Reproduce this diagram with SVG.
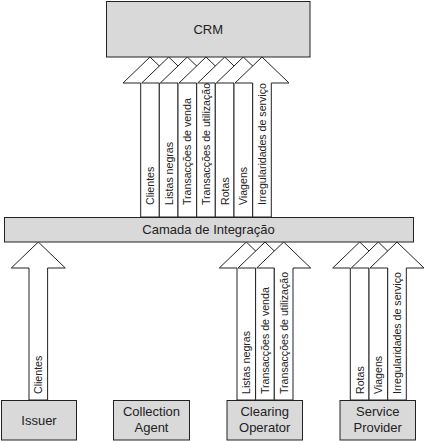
<svg xmlns="http://www.w3.org/2000/svg" width="424" height="441" viewBox="0 0 424 441">
<style>
.box{fill:#d9d9d9;stroke:#222;stroke-width:1}
.arr{fill:#fff;stroke:#222;stroke-width:1;stroke-linejoin:miter}
.lbl{font-family:"Liberation Sans",Arial,sans-serif;font-size:13px;fill:#222;text-anchor:middle}
.al{font-family:"Liberation Sans",Arial,sans-serif;font-size:10.6px;fill:#222}
</style>
<rect width="424" height="441" fill="#fff"/>
<g id="connectors">
<g id="a-clientes-top"><polygon class="arr" points="150,57 177,83 159.3,83 159.3,217 140.7,217 140.7,83 123,83"/><text class="al" transform="translate(153.8,205) rotate(-90)">Clientes</text></g>
<g id="a-listas-top"><polygon class="arr" points="168.7,57 195.7,83 178,83 178,217 159.3,217 159.3,83 141.7,83"/><text class="al" transform="translate(172.5,205) rotate(-90)">Listas negras</text></g>
<g id="a-venda-top"><polygon class="arr" points="187.3,57 214.3,83 196.7,83 196.7,217 178,217 178,83 160.3,83"/><text class="al" transform="translate(191.1,205) rotate(-90)">Transacções de venda</text></g>
<g id="a-util-top"><polygon class="arr" points="206,57 233,83 215.3,83 215.3,217 196.7,217 196.7,83 179,83"/><text class="al" transform="translate(209.8,205) rotate(-90)">Transacções de utilização</text></g>
<g id="a-rotas-top"><polygon class="arr" points="224.7,57 251.7,83 234,83 234,217 215.3,217 215.3,83 197.7,83"/><text class="al" transform="translate(228.5,205) rotate(-90)">Rotas</text></g>
<g id="a-viagens-top"><polygon class="arr" points="243.3,57 270.3,83 252.7,83 252.7,217 234,217 234,83 216.3,83"/><text class="al" transform="translate(247.1,205) rotate(-90)">Viagens</text></g>
<g id="a-irreg-top"><polygon class="arr" points="262,57 289,83 271.3,83 271.3,217 252.7,217 252.7,83 235,83"/><text class="al" transform="translate(265.8,205) rotate(-90)">Irregularidades de serviço</text></g>
<g id="a-clientes-issuer"><polygon class="arr" points="38.3,242 65.3,268 47.6,268 47.6,400 29,400 29,268 11.3,268"/><text class="al" transform="translate(42.1,394) rotate(-90)">Clientes</text></g>
<g id="a-listas-co"><polygon class="arr" points="246.3,242 273.3,268 255.6,268 255.6,400 237,400 237,268 219.3,268"/><text class="al" transform="translate(250.1,394) rotate(-90)">Listas negras</text></g>
<g id="a-venda-co"><polygon class="arr" points="265,242 292,268 274.3,268 274.3,400 255.6,400 255.6,268 238,268"/><text class="al" transform="translate(268.8,394) rotate(-90)">Transacções de venda</text></g>
<g id="a-util-co"><polygon class="arr" points="283.7,242 310.7,268 293,268 293,400 274.3,400 274.3,268 256.7,268"/><text class="al" transform="translate(287.5,394) rotate(-90)">Transacções de utilização</text></g>
<g id="a-rotas-sp"><polygon class="arr" points="359.7,242 386.7,268 369,268 369,400 350.3,400 350.3,268 332.7,268"/><text class="al" transform="translate(363.5,394) rotate(-90)">Rotas</text></g>
<g id="a-viagens-sp"><polygon class="arr" points="378.3,242 405.3,268 387.7,268 387.7,400 369,400 369,268 351.3,268"/><text class="al" transform="translate(382.1,394) rotate(-90)">Viagens</text></g>
<g id="a-irreg-sp"><polygon class="arr" points="397,242 424,268 406.3,268 406.3,400 387.7,400 387.7,268 370,268"/><text class="al" transform="translate(400.8,394) rotate(-90)">Irregularidades de serviço</text></g>
</g>
<g id="crm"><rect class="box" x="106.5" y="1.5" width="203.5" height="55.5"/><text class="lbl" x="208.2" y="33.5">CRM</text></g>
<g id="integracao"><rect class="box" x="4.5" y="217.5" width="409" height="24.5"/><text class="lbl" x="208.5" y="234">Camada de Integração</text></g>
<g id="issuer"><rect class="box" x="1.5" y="400.5" width="75" height="39.5"/><text class="lbl" x="39" y="425">Issuer</text></g>
<g id="collection-agent"><rect class="box" x="113.5" y="400.5" width="76" height="39.5"/><text class="lbl" x="151.5" y="415.5">Collection</text><text class="lbl" x="151.5" y="431.5">Agent</text></g>
<g id="clearing-operator"><rect class="box" x="227" y="400.5" width="75.5" height="39.5"/><text class="lbl" x="264.7" y="415.5">Clearing</text><text class="lbl" x="264.7" y="431.5">Operator</text></g>
<g id="service-provider"><rect class="box" x="340" y="400.5" width="75.5" height="39.5"/><text class="lbl" x="377.7" y="415.5">Service</text><text class="lbl" x="377.7" y="431.5">Provider</text></g>
</svg>
